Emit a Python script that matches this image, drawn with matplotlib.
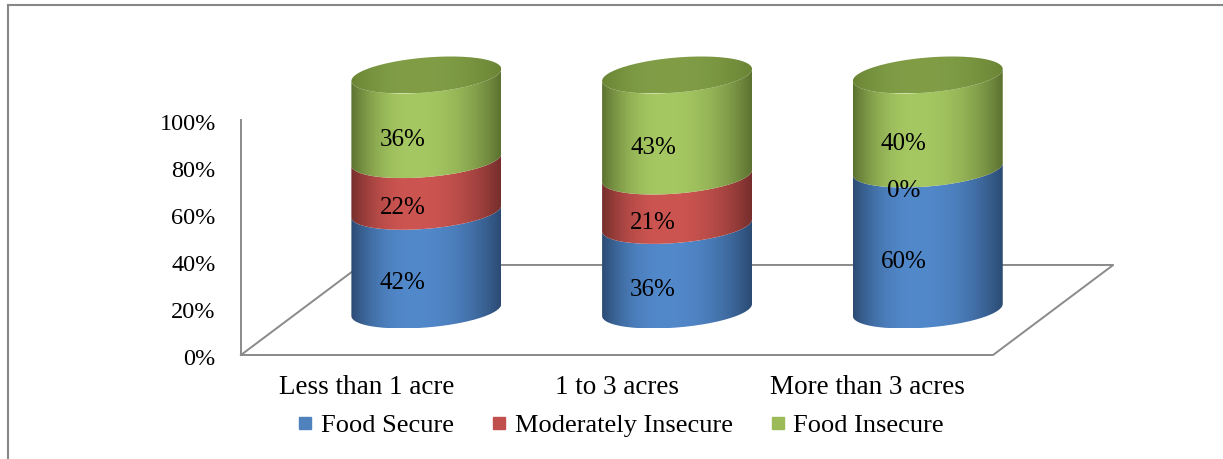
import matplotlib.pyplot as plt
import numpy as np
from matplotlib.path import Path
from matplotlib.patches import PathPatch
from matplotlib.lines import Line2D
from matplotlib.colors import to_rgb

plt.rcParams['font.family'] = ['Liberation Serif', 'DejaVu Serif']

categories = ["Less than 1 acre", "1 to 3 acres", "More than 3 acres"]
series_names = ["Food Secure", "Moderately Insecure", "Food Insecure"]
food_secure = [42, 36, 60]
moderately_insecure = [22, 21, 0]
food_insecure = [36, 43, 40]
y_ticks = [0, 20, 40, 60, 80, 100]

# light / dark shade of each series (cylinder look)
light = ["#5289CB", "#CD5551", "#A6C862"]
dark = ["#2B4B73", "#762E2C", "#5C7230"]
legend_col = ["#4F81BD", "#C0504D", "#9BBB59"]
top_light, top_dark = "#819E47", "#6A8434"

DX, DY = 0.479, 38.3          # floor depth in category units / percent
RX, RY, SH = 0.299, 7.45, 2.55  # cylinder radius, ellipse half height, tilt


def shade(c_light, c_dark, n=200):
    f = np.linspace(0, 1, n)
    peak = 0.42
    d = np.where(f < peak, (peak - f) / peak, (f - peak) / (1 - peak))
    w = 1 - d ** 2.2
    a, b = np.array(to_rgb(c_light)), np.array(to_rgb(c_dark))
    return (b + (a - b) * w[:, None])[None, :, :]


def arc(cx, cy, t):
    return np.column_stack([cx + RX * np.cos(t), cy + RY * np.sin(t) + SH * np.cos(t)])


def draw_piece(ax, verts, cx, img):
    patch = PathPatch(Path(verts), transform=ax.transData, facecolor='none', edgecolor='none')
    y0, y1 = verts[:, 1].min(), verts[:, 1].max()
    im = ax.imshow(img, extent=[cx - RX, cx + RX, y0, y1], aspect='auto',
                   interpolation='bilinear', zorder=3)
    im.set_clip_path(patch)


fig = plt.figure(figsize=(12.23, 4.59), dpi=100)
ax = fig.add_axes([0, 0, 1, 1])
ax.axis('off')

n = len(categories)
# floor and value axis
ax.plot([-0.5, n - 0.5, n - 0.5 + DX, -0.5 + DX, -0.5], [0, 0, DY, DY, 0],
        color='#8a8a8a', lw=1.4, zorder=1)
ax.plot([-0.5, -0.5], [0, 100], color='#8a8a8a', lw=1.4, zorder=1)
for t in y_ticks:
    ax.text(-0.6, t - 2.0, f"{t}%", ha='right', va='center', fontsize=17.5)

stack = np.array([food_secure, moderately_insecure, food_insecure])
for i in range(n):
    cx, cb = i + DX / 2, DY / 2
    base = 0
    for k in range(len(series_names)):
        v = stack[k, i]
        if v > 0:
            lo = arc(cx, cb + base, np.linspace(np.pi, 2 * np.pi, 80))
            hi = arc(cx, cb + base + v, np.linspace(2 * np.pi, np.pi, 80))
            draw_piece(ax, np.vstack([lo, hi, lo[:1]]), cx, shade(light[k], dark[k]))
        ax.text(i + 0.3 * DX, base + v / 2 + 0.3 * DY - 1.8, f"{v}%", ha='center',
                va='center', fontsize=18, zorder=5)
        base += v
    cap = arc(cx, cb + base, np.linspace(0, 2 * np.pi, 160))
    draw_piece(ax, cap, cx, shade(top_light, top_dark))
    ax.text(i, -14.0, categories[i], ha='center', va='center', fontsize=19.5)

ax.set_xlim(-1.461, 3.417)
ax.set_ylim(-44.26, 151.06)

handles = [Line2D([], [], marker='s', ls='', color=c, markersize=8) for c in legend_col]
fig.legend(handles, series_names, loc='center', bbox_to_anchor=(0.508, 0.073), ncol=3,
           frameon=False, fontsize=19, handlelength=0.5, handletextpad=0.35,
           columnspacing=1.45, borderaxespad=0)

# outer frame (top and left edges visible)
fx = 8 / 1223
fy = 1 - 5 / 459
fig.add_artist(Line2D([fx, fx], [0, fy], transform=fig.transFigure, color='#878787', lw=1.5))
fig.add_artist(Line2D([fx, 1], [fy, fy], transform=fig.transFigure, color='#878787', lw=1.5))

fig.savefig("out.png", dpi=100)
